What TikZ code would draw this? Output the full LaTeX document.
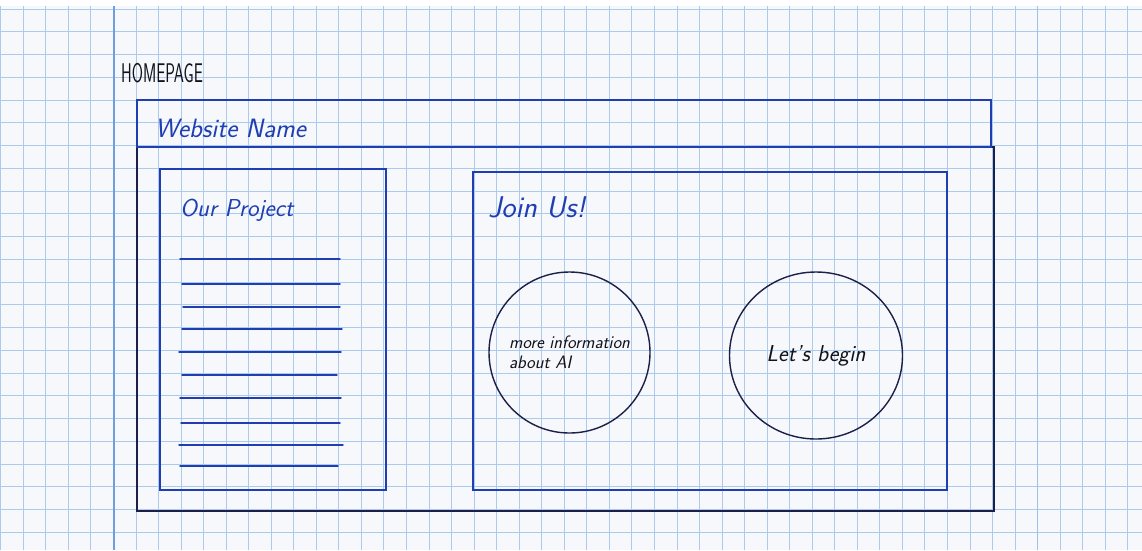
\documentclass[tikz,border=0pt]{standalone}
\usepackage{fontspec}
\usepackage{xcolor}
\usepackage{tikz}
\usetikzlibrary{positioning, shapes.geometric}

\definecolor{paper}{RGB}{246,248,251}
\definecolor{gridblue}{RGB}{172,202,238}
\definecolor{marginblue}{RGB}{110,158,226}
\definecolor{inkblue}{RGB}{30,62,178}
\definecolor{inknavy}{RGB}{28,32,72}
\definecolor{inkblack}{RGB}{18,18,26}

\begin{document}
\begin{tikzpicture}[x=1pt, y=-1pt,
  gridline/.style={gridblue, line width=1pt},
  frame/.style={draw=inkblue, line width=1.6pt, inner sep=0pt},
  bubble/.style={ellipse, draw=inknavy, line width=1.4pt, inner sep=-16pt, text=inkblack, align=left, font=\sffamily\itshape\fontsize{18}{20}\selectfont},
  hand/.style={font=\sffamily\itshape\fontsize{24.5}{26}\selectfont, text=inkblue, inner sep=0pt, anchor=west},
  txtline/.style={inkblue, line width=1.4pt, line cap=round}
]
  % Paper
  \fill[white] (0,0) rectangle (1142,550);
  \fill[paper] (0,6) rectangle (1142,550);
  \useasboundingbox (0,0) rectangle (1142,550);

  % Grid
  \foreach \k in {0,...,50}
    \draw[gridline] ({0.8+22.54*\k},6) -- ({0.8+22.54*\k},550);
  \foreach \k in {0,...,23}
    \draw[gridline] (0,{9+22.75*\k}) -- (1142,{9+22.75*\k});
  \draw[gridblue!80!marginblue, line width=1.3pt] (1037.6,6) -- (1037.6,550);
  \draw[marginblue, line width=2pt] (113.5,6) -- (113.5,550);

  % Page title
  \node[font=\sffamily\fontsize{27}{27}\selectfont, text=inkblack, inner sep=0pt, anchor=west, xscale=0.6] (title) at (121,73) {HOMEPAGE};

  % Page frame and header bar
  \node[frame, draw=inknavy, line width=1.3pt, minimum width=857pt, minimum height=364pt] (body) at (565.5,329) {};
  \node[frame, minimum width=854pt, minimum height=47pt] (header) at (564,123.5) {};
  \node[hand, font=\sffamily\itshape\fontsize{26.5}{28}\selectfont] (sitename) at (155,128) {Website Name};

  % Our Project panel
  \node[frame, minimum width=226pt, minimum height=321pt] (proj) at (273,329.5) {};
  \node[hand] (projlbl) at (180,210) {Our Project};
  \foreach \ys/\xs/\xe in {259/180/340, 284/182/340, 307/183/340, 329/182/342, 352/179/341,
                           375/182/337, 398/180/341, 423/181/340, 445/179/343, 466/180/338}
    \draw[txtline] (\xs,\ys) -- (\xe,\ys);

  % Join Us panel
  \node[frame, minimum width=474pt, minimum height=318pt] (join) at (710,331) {};
  \node[hand, font=\sffamily\itshape\fontsize{30}{30}\selectfont] (joinlbl) at (488,207) {Join Us!};

  % Buttons
  \node[bubble, minimum width=161pt, minimum height=161pt] (info) at (569.5,352.5) {more information\\about AI};
  \node[bubble, minimum width=173pt, minimum height=167pt, font=\sffamily\itshape\fontsize{23}{24}\selectfont] (begin) at (816,355.5) {Let's begin};

\end{tikzpicture}
\end{document}
